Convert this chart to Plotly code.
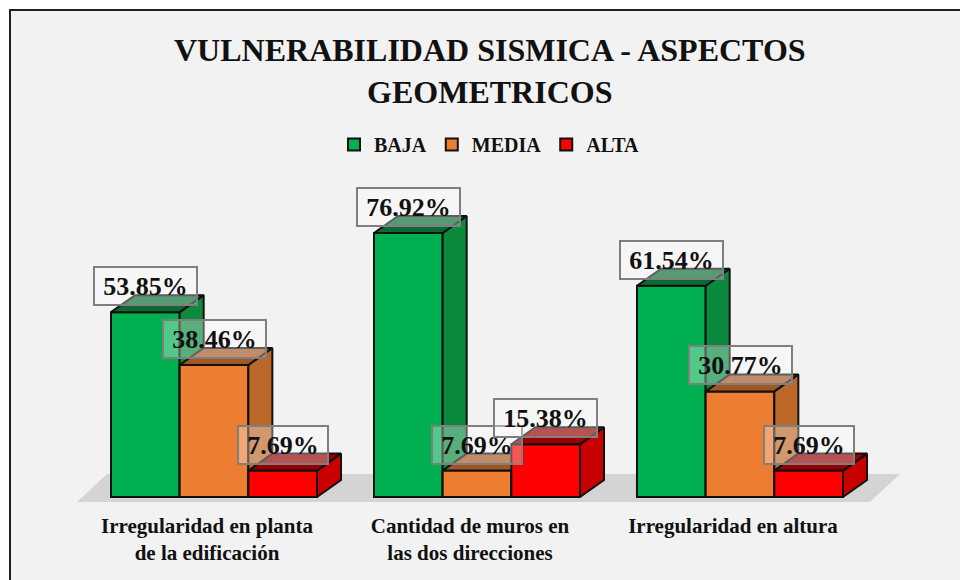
import plotly.graph_objects as go

categories = ["Irregularidad en planta<br>de la edificación", "Cantidad de muros en<br>las dos direcciones", "Irregularidad en altura"]
baja = [53.85, 76.92, 61.54]
media = [38.46, 7.69, 30.77]
alta = [7.69, 15.38, 7.69]

SERIF = "Liberation Serif"
INK = "#111111"
W, H = 960, 580
L, R, T, B = 60, 910, 180, 510      # plot area in px
PX_X = 263.0                        # px per category
PX_Y = 3.432                        # px per percent
X0, Y0 = 214.0, 497.0               # px of category 0 and of value 0
BAR = 68.67 / PX_X
DX, DY = 24 / PX_X, 17 / PX_Y       # 3-D depth in axis units

def vx(px):
    return (px - X0) / PX_X

def vy(py):
    return (Y0 - py) / PX_Y

def paper_x(px):
    return (px - L) / (R - L)

def paper_y(py):
    return (B - py) / (B - T)

def bold_lines(s):
    return "<br>".join(f"<b>{p}</b>" for p in s.split("<br>"))

series = [
    ("BAJA", baja, "#00B050", "#0B8A3E", "#0A6A32", -1),
    ("MEDIA", media, "#ED7D31", "#BC6829", "#A25623", 0),
    ("ALTA", alta, "#FF0000", "#C80000", "#960000", 1),
]

fig = go.Figure()
xs = [0, 1, 2]
annotations = []
for k, (name, vals, front, side, top, off) in enumerate(series):
    xa, ya = ("x", "y") if k == 0 else (f"x{k+1}", f"y{k+1}")
    cx = [x + off * BAR for x in xs]
    fig.add_trace(go.Bar(x=cx, y=vals, width=BAR, name=f"<b>{name}</b>", xaxis=xa, yaxis=ya,
                         marker=dict(color=front, line=dict(color=INK, width=2)),
                         hoverinfo="name+y"))
    sx, sy, tx, ty = [], [], [], []
    for c, v in zip(cx, vals):
        r, l = c + BAR / 2, c - BAR / 2
        sx += [r, r + DX, r + DX, r, r, None]
        sy += [0, DY, v + DY, v, 0, None]
        tx += [l, r, r + DX, l + DX, l, None]
        ty += [v, v, v + DY, v + DY, v, None]
    for px_, py_, col in ((sx, sy, side), (tx, ty, top)):
        fig.add_trace(go.Scatter(x=px_, y=py_, mode="lines", fill="toself", fillcolor=col,
                                 line=dict(color=INK, width=2), showlegend=False,
                                 hoverinfo="skip", xaxis=xa, yaxis=ya, cliponaxis=False))
    for c, v in zip(cx, vals):
        annotations.append(dict(x=c, y=v, xref="x", yref="y", text=f"<b>{v:.2f}%</b>", showarrow=False,
                                yanchor="bottom", yshift=6, font=dict(family=SERIF, size=26, color=INK),
                                bgcolor="rgba(255,255,255,0.32)", bordercolor="#7f7f7f", borderwidth=2,
                                width=101 if v >= 10 else 88, height=36, borderpad=0, align="center"))

annotations.append(dict(x=paper_x(490), y=paper_y(30), xref="paper", yref="paper", showarrow=False,
                        text=bold_lines("VULNERABILIDAD SISMICA - ASPECTOS<br>GEOMETRICOS"), align="center",
                        xanchor="center", yanchor="top",
                        font=dict(family=SERIF, size=32, color=INK)))

axis_common = dict(range=[vx(L), vx(R)], visible=False, fixedrange=True)
yrange = [vy(B), vy(T)]
layout = dict(
    width=W, height=H, autosize=False,
    margin=dict(l=L, r=W - R, t=T, b=H - B, pad=0),
    paper_bgcolor="white", plot_bgcolor="rgba(0,0,0,0)",
    barmode="overlay", annotations=annotations,
    xaxis=dict(range=[vx(L), vx(R)], tickmode="array", tickvals=xs,
               ticktext=[bold_lines(c) for c in categories],
               showgrid=False, zeroline=False, showline=False, ticks="", ticklabelshift=-7,
               ticklabelstandoff=1, tickfont=dict(family=SERIF, size=21, color=INK)),
    yaxis=dict(range=yrange, visible=False, fixedrange=True),
    xaxis2=dict(axis_common, overlaying="x"), yaxis2=dict(range=yrange, visible=False, overlaying="y"),
    xaxis3=dict(axis_common, overlaying="x"), yaxis3=dict(range=yrange, visible=False, overlaying="y"),
    legend=dict(orientation="h", xref="paper", yref="paper", x=paper_x(334), y=paper_y(125),
                xanchor="left", yanchor="top", bgcolor="rgba(0,0,0,0)",
                font=dict(family=SERIF, size=20, color=INK), itemclick=False, itemdoubleclick=False),
    shapes=[
        dict(type="rect", xref="paper", yref="paper", layer="below",
             x0=paper_x(10), x1=paper_x(962), y0=paper_y(10), y1=paper_y(590),
             fillcolor="#F2F2F2", line=dict(color="#222222", width=2)),
        dict(type="path", xref="x", yref="y", layer="below", line=dict(width=0), fillcolor="#D4D4D4",
             path=f"M {vx(77)},{vy(502)} L {vx(107)},{vy(474)} L {vx(900)},{vy(474)} L {vx(870)},{vy(502)} Z"),
    ],
)
fig.update_layout(**layout)
fig.write_html("out.html", config={"displayModeBar": False},
               post_script="document.body.style.margin='0';document.documentElement.style.overflow='hidden';")
